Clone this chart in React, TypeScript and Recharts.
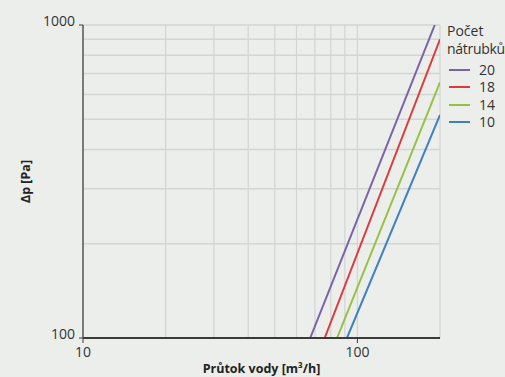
import React from "react";
import { LineChart, Line, XAxis, YAxis, ReferenceLine, Legend, Label } from "recharts";

const xTicks = [10, 100];
const yTicks = [100, 1000];
const xGrid = [20, 30, 40, 50, 60, 70, 80, 90, 100, 200];
const yGrid = [200, 300, 400, 500, 600, 700, 800, 900, 1000];

const seriesNames = ["20", "18", "14", "10"];
const seriesColors = ["#7b62a8", "#dc3b3d", "#97c044", "#3f80c4"];
const flow20 = [67.3, 191.4];
const dp20 = [100, 1000];
const flow18 = [76.0, 200];
const dp18 = [100, 900];
const flow14 = [84.3, 200];
const dp14 = [100, 656];
const flow10 = [91.6, 200];
const dp10 = [100, 516];

const flows = [flow20, flow18, flow14, flow10];
const dps = [dp20, dp18, dp14, dp10];

const seriesData = flows.map((f, i) => f.map((x, j) => ({ x, y: dps[i][j] })));

const FONT = "'Open Sans', 'Noto Sans', sans-serif";

const LegendContent = () => (
  <div style={{ fontFamily: FONT, color: "#333", fontSize: 14, lineHeight: "18px", whiteSpace: "nowrap" }}>
    <div>Počet</div>
    <div style={{ letterSpacing: -0.3 }}>nátrubků</div>
    <div style={{ marginTop: 3 }}>
      {seriesNames.map((n, i) => (
        <div key={n} style={{ display: "flex", alignItems: "center", height: 17.5 }}>
          <span style={{ display: "inline-block", width: 21, height: 2, background: seriesColors[i], marginLeft: 2, marginRight: 9 }} />
          <span>{n}</span>
        </div>
      ))}
    </div>
  </div>
);

export default function App() {
  return (
    <div style={{ position: "absolute", left: 0, top: 0, width: 505, height: 377, background: "#eceeec", overflow: "hidden" }}>
      <LineChart width={505} height={377} margin={{ top: 25, right: 65, bottom: 0, left: 0 }}>
        <XAxis
          type="number"
          dataKey="x"
          scale="log"
          domain={[10, 200]}
          ticks={xTicks}
          allowDataOverflow
          axisLine={{ stroke: "#3a3a3a", strokeWidth: 2 }}
          tickLine={{ stroke: "#3a3a3a" }}
          tickSize={5}
          tick={{ fill: "#333", fontSize: 14, fontFamily: FONT, dy: 2 }}
          height={39}
        >
          <Label value="Průtok vody [m³/h]" position="insideBottom" offset={4} style={{ fill: "#222", fontSize: 12.5, fontWeight: 700, fontFamily: FONT }} />
        </XAxis>
        <YAxis
          type="number"
          dataKey="y"
          scale="log"
          domain={[100, 1000]}
          ticks={yTicks}
          allowDataOverflow
          width={83}
          axisLine={{ stroke: "#555", strokeWidth: 1.5 }}
          tickLine={{ stroke: "#3a3a3a" }}
          tickSize={4}
          tick={{ fill: "#333", fontSize: 14, fontFamily: FONT, dy: -4, dx: -2 }}
        >
          <Label value="Δp [Pa]" angle={-90} position="insideLeft" offset={26} style={{ fill: "#222", fontSize: 12.5, fontWeight: 700, fontFamily: FONT, textAnchor: "middle" }} />
        </YAxis>
        {xGrid.map((v) => (
          <ReferenceLine key={"x" + v} x={v} stroke="#d3d5d4" strokeWidth={1.2} ifOverflow="visible" />
        ))}
        {yGrid.map((v) => (
          <ReferenceLine key={"y" + v} y={v} stroke="#d3d5d4" strokeWidth={1.5} ifOverflow="visible" />
        ))}
        <Legend
          layout="vertical"
          align="center"
          verticalAlign="middle"
          wrapperStyle={{ left: 447, top: 22, width: 60 }}
          content={<LegendContent />}
        />
        {seriesData.map((d, i) => (
          <Line
            key={seriesNames[i]}
            data={d}
            dataKey="y"
            name={seriesNames[i]}
            type="linear"
            stroke={seriesColors[i]}
            strokeWidth={2}
            dot={false}
            activeDot={false}
            isAnimationActive={false}
          />
        ))}
      </LineChart>
    </div>
  );
}
